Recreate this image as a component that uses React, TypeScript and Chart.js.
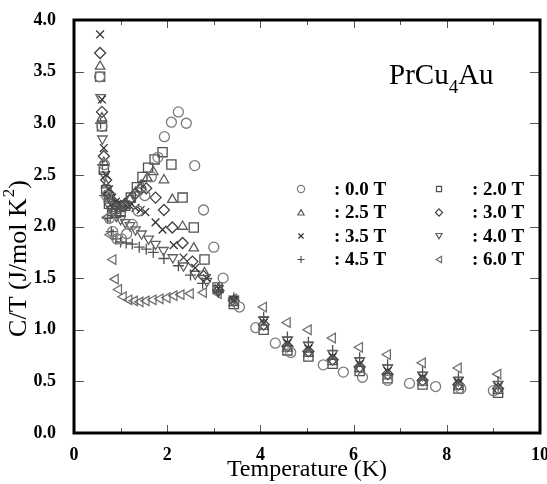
import React, { useEffect, useRef } from 'react';
import { Chart, registerables } from 'chart.js';

Chart.register(...registerables);

// ---- data (Temperature in K, C/T in J/mol K^2) ----
const fieldLabels = [': 0.0 T', ': 2.0 T', ': 2.5 T', ': 3.0 T', ': 3.5 T', ': 4.0 T', ': 4.5 T', ': 6.0 T'];

const highT = [3.43, 4.07, 4.58, 5.03, 5.55, 6.13, 6.73, 7.48, 8.25, 9.1];

const t00 = [0.55, 0.6, 0.65, 0.7, 0.76, 0.83, 0.92, 1.02, 1.13, 1.25, 1.38, 1.52, 1.66, 1.8, 1.94, 2.09, 2.24, 2.41, 2.59, 2.78, 3.0, 3.2, 3.55, 3.9, 4.32, 4.65, 5.35, 5.78, 6.19, 6.73, 7.2, 7.76, 8.3, 9.0];
const c00 = [3.45, 2.97, 2.6, 2.3, 2.08, 1.95, 1.88, 1.88, 1.93, 2.02, 2.15, 2.3, 2.48, 2.67, 2.87, 3.01, 3.11, 3.0, 2.59, 2.16, 1.8, 1.5, 1.22, 1.02, 0.87, 0.78, 0.66, 0.59, 0.54, 0.51, 0.48, 0.45, 0.43, 0.41];

const t20 = [0.56, 0.6, 0.64, 0.69, 0.75, 0.82, 0.9, 1.0, 1.1, 1.22, 1.35, 1.47, 1.59, 1.73, 1.9, 2.09, 2.33, 2.57, 2.8, 3.08];
const c20 = [3.45, 2.97, 2.55, 2.35, 2.22, 2.15, 2.13, 2.15, 2.2, 2.28, 2.38, 2.48, 2.57, 2.65, 2.72, 2.6, 2.28, 1.99, 1.68, 1.41, 1.25, 1.0, 0.8, 0.74, 0.67, 0.6, 0.53, 0.47, 0.43, 0.39];

const t25 = [0.56, 0.6, 0.64, 0.69, 0.75, 0.82, 0.9, 1.0, 1.1, 1.2, 1.32, 1.44, 1.57, 1.7, 1.93, 2.11, 2.33, 2.57, 2.8, 3.1];
const c25 = [3.55, 3.05, 2.62, 2.4, 2.27, 2.2, 2.17, 2.17, 2.2, 2.26, 2.33, 2.4, 2.47, 2.53, 2.45, 2.26, 2.0, 1.79, 1.55, 1.4, 1.26, 1.03, 0.82, 0.77, 0.69, 0.62, 0.55, 0.49, 0.45, 0.41];

const t30 = [0.56, 0.6, 0.64, 0.69, 0.75, 0.82, 0.9, 1.0, 1.1, 1.2, 1.32, 1.43, 1.55, 1.75, 1.93, 2.11, 2.33, 2.54, 2.78, 3.1];
const c30 = [3.68, 3.11, 2.68, 2.45, 2.32, 2.25, 2.2, 2.2, 2.22, 2.26, 2.32, 2.36, 2.37, 2.28, 2.16, 1.99, 1.84, 1.66, 1.52, 1.38, 1.28, 1.05, 0.84, 0.79, 0.71, 0.64, 0.57, 0.51, 0.47, 0.43];

const t35 = [0.56, 0.6, 0.64, 0.69, 0.75, 0.82, 0.9, 1.0, 1.1, 1.2, 1.32, 1.43, 1.53, 1.75, 1.9, 2.14, 2.35, 2.6, 2.85, 3.1];
const c35 = [3.86, 3.23, 2.76, 2.5, 2.36, 2.28, 2.24, 2.22, 2.21, 2.2, 2.18, 2.16, 2.14, 2.04, 1.97, 1.82, 1.7, 1.6, 1.5, 1.4, 1.29, 1.07, 0.87, 0.82, 0.74, 0.67, 0.6, 0.54, 0.49, 0.45];

const t40 = [0.57, 0.61, 0.65, 0.7, 0.76, 0.83, 0.91, 1.0, 1.1, 1.2, 1.32, 1.45, 1.6, 1.75, 1.92, 2.12, 2.35, 2.6, 2.85, 3.1];
const c40 = [3.25, 2.85, 2.5, 2.3, 2.2, 2.14, 2.1, 2.07, 2.04, 2.01, 1.97, 1.93, 1.88, 1.83, 1.77, 1.7, 1.62, 1.54, 1.47, 1.4, 1.3, 1.1, 0.9, 0.85, 0.77, 0.7, 0.63, 0.56, 0.51, 0.47];

const t45 = [0.57, 0.61, 0.66, 0.72, 0.8, 0.9, 1.0, 1.12, 1.25, 1.4, 1.55, 1.7, 1.93, 2.24, 2.5, 2.76, 3.1];
const c45 = [3.0, 2.6, 2.3, 2.08, 1.95, 1.88, 1.85, 1.84, 1.83, 1.8, 1.78, 1.75, 1.69, 1.62, 1.53, 1.45, 1.36, 1.31, 1.12, 0.93, 0.88, 0.8, 0.73, 0.66, 0.59, 0.54, 0.5];

const t60 = [0.72, 0.78, 0.84, 0.89, 0.96, 1.06, 1.18, 1.3, 1.42, 1.55, 1.7, 1.85, 2.0, 2.15, 2.3, 2.5, 2.78, 3.1];
const c60 = [2.09, 1.92, 1.68, 1.49, 1.39, 1.32, 1.29, 1.28, 1.27, 1.28, 1.29, 1.3, 1.31, 1.33, 1.34, 1.35, 1.36, 1.35, 1.3, 1.22, 1.07, 1.0, 0.92, 0.83, 0.76, 0.68, 0.63, 0.57];

const yTickValues = [0, 0.5, 1, 1.5, 2, 2.5, 3, 3.5, 4];
const xTickValues = [0, 2, 4, 6, 8, 10];

type Style = { style: string; rot: number; r: number; color: string };
const styles: Style[] = [
  { style: 'circle', rot: 0, r: 5, color: '#7a7a7a' },
  { style: 'rect', rot: 0, r: 6.5, color: '#505050' },
  { style: 'triangle', rot: 0, r: 5.5, color: '#5a5a5a' },
  { style: 'rectRot', rot: 0, r: 5.5, color: '#404040' },
  { style: 'crossRot', rot: 0, r: 5.5, color: '#303030' },
  { style: 'triangle', rot: 180, r: 5.5, color: '#606060' },
  { style: 'cross', rot: 0, r: 5.5, color: '#505050' },
  { style: 'triangle', rot: 270, r: 5.5, color: '#707070' },
];

function pts(ts: number[], cs: number[]) {
  const xs = ts.concat(highT.slice(0, Math.max(0, cs.length - ts.length)));
  return cs.map((c, i) => ({ x: xs[i], y: c }));
}

const seriesT = [t00, t20, t25, t30, t35, t40, t45, t60];
const seriesC = [c00, c20, c25, c30, c35, c40, c45, c60];

const SERIF = '"Liberation Serif", "Times New Roman", serif';

function drawSymbol(ctx: CanvasRenderingContext2D, st: Style, x: number, y: number, r: number) {
  ctx.save();
  ctx.translate(x, y);
  ctx.rotate((st.rot * Math.PI) / 180);
  ctx.beginPath();
  const s = st.style;
  if (s === 'circle') {
    ctx.arc(0, 0, r, 0, Math.PI * 2);
  } else if (s === 'rect') {
    const h = r * Math.SQRT1_2;
    ctx.rect(-h, -h, 2 * h, 2 * h);
  } else if (s === 'rectRot') {
    ctx.moveTo(0, -r); ctx.lineTo(r, 0); ctx.lineTo(0, r); ctx.lineTo(-r, 0); ctx.closePath();
  } else if (s === 'triangle') {
    const a = (2 * Math.PI) / 3;
    for (let k = 0; k < 3; k++) {
      const ang = -Math.PI / 2 + k * a;
      const px = Math.cos(ang) * r, py = Math.sin(ang) * r + r * 0.2;
      if (k === 0) ctx.moveTo(px, py); else ctx.lineTo(px, py);
    }
    ctx.closePath();
  } else if (s === 'cross') {
    ctx.moveTo(0, -r); ctx.lineTo(0, r); ctx.moveTo(-r, 0); ctx.lineTo(r, 0);
  } else if (s === 'crossRot') {
    const d = r * Math.SQRT1_2;
    ctx.moveTo(-d, -d); ctx.lineTo(d, d); ctx.moveTo(-d, d); ctx.lineTo(d, -d);
  }
  ctx.strokeStyle = st.color;
  ctx.lineWidth = 1.2;
  ctx.stroke();
  ctx.restore();
}

const decorPlugin = {
  id: 'decor',
  afterDraw(chart: any) {
    const ctx: CanvasRenderingContext2D = chart.ctx;
    const { left, right, top, bottom } = chart.chartArea;
    const xs = chart.scales.x;
    const ys = chart.scales.y;
    ctx.save();
    // inward ticks
    ctx.strokeStyle = '#555';
    ctx.lineWidth = 1;
    for (let v = 0; v <= 10; v++) {
      const px = Math.round(xs.getPixelForValue(v)) + 0.5;
      const len = v % 2 === 0 ? 8 : 5;
      ctx.beginPath();
      ctx.moveTo(px, bottom); ctx.lineTo(px, bottom - len);
      ctx.moveTo(px, top); ctx.lineTo(px, top + len);
      ctx.stroke();
    }
    for (const v of yTickValues) {
      const py = Math.round(ys.getPixelForValue(v)) + 0.5;
      ctx.beginPath();
      ctx.moveTo(left, py); ctx.lineTo(left + 10, py);
      ctx.moveTo(right, py); ctx.lineTo(right - 10, py);
      ctx.stroke();
    }
    // frame
    ctx.strokeStyle = '#000';
    ctx.lineWidth = 3;
    ctx.strokeRect(left, top, right - left, bottom - top);

    // y-axis title with superscript
    ctx.fillStyle = '#000';
    ctx.translate(19, 259);
    ctx.rotate(-Math.PI / 2);
    ctx.textBaseline = 'middle';
    ctx.textAlign = 'left';
    const main = `26px ${SERIF}`;
    const sup = `17px ${SERIF}`;
    ctx.font = main;
    const p1 = 'C/T (J/mol K';
    const w1 = ctx.measureText(p1).width;
    const w3 = ctx.measureText(')').width;
    ctx.font = sup;
    const w2 = ctx.measureText('2').width;
    const total = w1 + w2 + w3;
    let cx = -total / 2;
    ctx.font = main;
    ctx.fillText(p1, cx, 0);
    cx += w1;
    ctx.font = sup;
    ctx.fillText('2', cx + 1, -9);
    cx += w2 + 1;
    ctx.font = main;
    ctx.fillText(')', cx, 0);
    ctx.restore();

    // compound label
    ctx.save();
    ctx.fillStyle = '#000';
    ctx.textBaseline = 'alphabetic';
    ctx.textAlign = 'left';
    ctx.font = `29px ${SERIF}`;
    let tx = 389;
    ctx.fillText('PrCu', tx, 84);
    tx += ctx.measureText('PrCu').width;
    ctx.font = `19px ${SERIF}`;
    ctx.fillText('4', tx, 93);
    tx += ctx.measureText('4').width;
    ctx.font = `29px ${SERIF}`;
    ctx.fillText('Au', tx, 84);

    // legend
    ctx.font = `bold 19px ${SERIF}`;
    ctx.textBaseline = 'middle';
    const rowsY = [189, 212.5, 236, 259.5];
    for (let i = 0; i < 8; i++) {
      const row = Math.floor(i / 2);
      const col = i % 2;
      const sx = col === 0 ? 301 : 439;
      const txx = col === 0 ? 334 : 472;
      const y = rowsY[row];
      drawSymbol(ctx, styles[i], sx, y, 3.6);
      ctx.fillStyle = '#000';
      ctx.fillText(fieldLabels[i], txx, y + 1);
    }
    ctx.restore();
  },
};

export default function App() {
  const ref = useRef<HTMLCanvasElement | null>(null);
  useEffect(() => {
    document.body.style.margin = '0';
    const canvas = ref.current;
    if (!canvas) return;
    const datasets = seriesC.map((cs, i) => ({
      label: fieldLabels[i],
      data: pts(seriesT[i], cs),
      showLine: false,
      pointStyle: styles[i].style as any,
      rotation: styles[i].rot,
      pointRadius: styles[i].r,
      pointHoverRadius: styles[i].r,
      pointBorderColor: styles[i].color,
      pointBackgroundColor: 'rgba(0,0,0,0)',
      pointBorderWidth: 1.3,
    }));
    const chart = new Chart(canvas, {
      type: 'scatter',
      data: { datasets },
      options: {
        responsive: false,
        animation: false,
        devicePixelRatio: 1,
        layout: { padding: { top: 20, right: 7, left: 0, bottom: 0 }, autoPadding: false },
        plugins: { legend: { display: false }, tooltip: { enabled: false } },
        scales: {
          x: {
            type: 'linear',
            min: 0,
            max: 10,
            afterFit: (s: any) => { s.height = 51; s.paddingLeft = 0; s.paddingRight = 0; },
            afterBuildTicks: (s: any) => { s.ticks = xTickValues.map((v) => ({ value: v })); },
            grid: { display: false, drawTicks: false },
            border: { display: false },
            ticks: {
              padding: 12,
              color: '#000',
              font: { family: SERIF, size: 18, weight: 'bold' },
              maxRotation: 0,
              callback: (v: any) => String(v),
            },
            title: {
              display: true,
              text: 'Temperature (K)',
              color: '#000',
              padding: 0,
              font: { family: SERIF, size: 24 },
            },
          },
          y: {
            type: 'linear',
            min: 0,
            max: 4,
            afterFit: (s: any) => { s.width = 74; s.paddingTop = 0; s.paddingBottom = 0; },
            afterBuildTicks: (s: any) => { s.ticks = yTickValues.map((v) => ({ value: v })); },
            grid: { display: false, drawTicks: false },
            border: { display: false },
            ticks: {
              padding: 18,
              color: '#000',
              font: { family: SERIF, size: 18, weight: 'bold' },
              callback: (v: any) => Number(v).toFixed(1),
            },
          },
        },
      } as any,
      plugins: [decorPlugin],
    });
    return () => chart.destroy();
  }, []);
  return (
    <div style={{ width: 547, height: 484, background: '#fff' }}>
      <canvas ref={ref} width={547} height={484} style={{ display: 'block', width: 547, height: 484 }} />
    </div>
  );
}
